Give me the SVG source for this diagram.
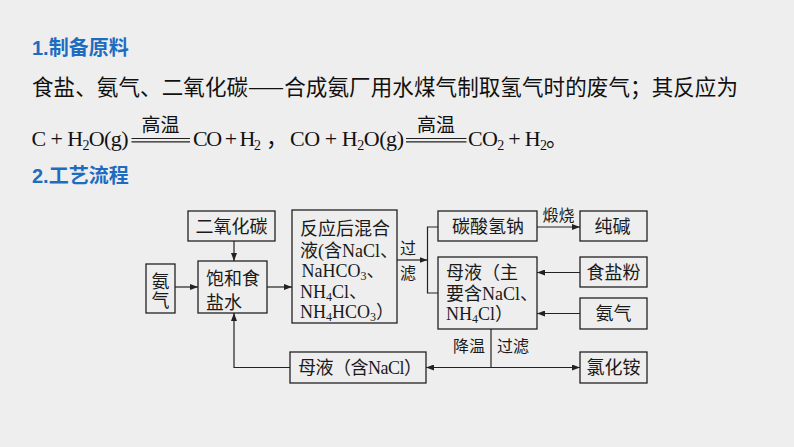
<svg xmlns="http://www.w3.org/2000/svg" width="794" height="447" viewBox="0 0 794 447">
<style>
.h{font-family:"Liberation Sans","Noto Sans CJK SC",sans-serif;font-weight:bold;font-size:20px;fill:#1d6cc0}
.p{font-family:"Noto Sans CJK SC",sans-serif;font-size:21.5px;fill:#111}
.eq{font-family:"Liberation Serif","Noto Sans CJK SC",serif;font-size:22px;fill:#111}
.cond{font-family:"Noto Sans CJK SC",sans-serif;font-size:19px;fill:#111}
.t{font-family:"Liberation Serif","Noto Sans CJK SC",serif;font-size:18px;fill:#1a1a1a}
.s{font-family:"Noto Sans CJK SC",sans-serif;font-size:16px;fill:#1a1a1a}
.sub{font-size:12px}
.esub{font-size:14px}
.box{fill:none;stroke:#222;stroke-width:1.3}
.ln{fill:none;stroke:#222;stroke-width:1.2}
</style>
<defs>
<marker id="ah" markerUnits="userSpaceOnUse" markerWidth="8" markerHeight="6" refX="8" refY="3" orient="auto">
<path d="M0,0 L8,3 L0,6 z" fill="#222"/>
</marker>
</defs>
<rect x="0" y="0" width="794" height="447" fill="#eeeeee"/>

<text class="h" x="32" y="55">1.制备原料</text>
<text class="p" x="32" y="95" textLength="706" lengthAdjust="spacing">食盐、氨气、二氧化碳——合成氨厂用水煤气制取氢气时的废气；其反应为</text>

<g id="equation">
<text class="eq" x="31.5" y="145.5" textLength="97" lengthAdjust="spacing">C + H<tspan class="esub" dy="4">2</tspan><tspan dy="-4">O(g)</tspan></text>
<text class="cond" x="160.5" y="131.5" text-anchor="middle">高温</text>
<line class="ln" x1="131.5" y1="138.5" x2="190" y2="138.5" stroke-width="1"/>
<line class="ln" x1="131.5" y1="141.8" x2="190" y2="141.8" stroke-width="1"/>
<text class="eq" x="193" y="145.5" textLength="68" lengthAdjust="spacing">CO + H<tspan class="esub" dy="4">2</tspan></text>
<text class="eq" x="266" y="145.5">，</text>
<text class="eq" x="290" y="145.5" textLength="114" lengthAdjust="spacing">CO + H<tspan class="esub" dy="4">2</tspan><tspan dy="-4">O(g)</tspan></text>
<text class="cond" x="436" y="131.5" text-anchor="middle">高温</text>
<line class="ln" x1="406" y1="138.5" x2="466.5" y2="138.5" stroke-width="1"/>
<line class="ln" x1="406" y1="141.8" x2="466.5" y2="141.8" stroke-width="1"/>
<text class="eq" x="468" y="145.5" textLength="79" lengthAdjust="spacing">CO<tspan class="esub" dy="4">2</tspan><tspan dy="-4"> + H</tspan><tspan class="esub" dy="4">2</tspan></text>
<text class="eq" x="546" y="145.5">。</text>
</g>

<text class="h" x="32" y="183">2.工艺流程</text>

<g id="co2">
<rect class="box" x="188" y="211" width="87" height="30"/>
<text class="t" x="231.5" y="233" text-anchor="middle">二氧化碳</text>
</g>
<g id="nh3-left">
<rect class="box" x="146" y="264" width="29" height="49"/>
<text class="t" x="160.5" y="287.5" text-anchor="middle">氨</text>
<text class="t" x="160.5" y="307" text-anchor="middle">气</text>
</g>
<g id="brine">
<rect class="box" x="198" y="261" width="69" height="52"/>
<text class="t" x="206" y="284.5">饱和食</text>
<text class="t" x="206" y="308.5">盐水</text>
</g>
<g id="mixture">
<rect class="box" x="292" y="210" width="105" height="113"/>
<text class="t" x="300" y="235">反应后混合</text>
<text class="t" x="300" y="256.5">液(含NaCl、</text>
<text class="t" x="301.5" y="276.5">NaHCO<tspan class="sub" dy="3">3</tspan><tspan dy="-3">、</tspan></text>
<text class="t" x="300" y="297.5">NH<tspan class="sub" dy="3">4</tspan><tspan dy="-3">Cl、</tspan></text>
<text class="t" x="300" y="318">NH<tspan class="sub" dy="3">4</tspan><tspan dy="-3">HCO</tspan><tspan class="sub" dy="3">3</tspan><tspan dy="-3">）</tspan></text>
</g>
<g id="mother2">
<rect class="box" x="290" y="352" width="136" height="31"/>
<text class="t" x="298" y="374" textLength="124" lengthAdjust="spacing">母液（含NaCl）</text>
</g>
<g id="nahco3">
<rect class="box" x="438" y="211" width="99" height="30"/>
<text class="t" x="488" y="233" text-anchor="middle">碳酸氢钠</text>
</g>
<g id="soda">
<rect class="box" x="580" y="211" width="67" height="30"/>
<text class="t" x="612.5" y="233" text-anchor="middle">纯碱</text>
</g>
<g id="mother1">
<rect class="box" x="438" y="257" width="99" height="72"/>
<text class="t" x="446" y="279">母液（主</text>
<text class="t" x="446" y="300">要含NaCl、</text>
<text class="t" x="446" y="320">NH<tspan class="sub" dy="3">4</tspan><tspan dy="-3">Cl）</tspan></text>
</g>
<g id="saltpowder">
<rect class="box" x="580" y="257" width="67" height="30"/>
<text class="t" x="613.5" y="279" text-anchor="middle">食盐粉</text>
</g>
<g id="nh3-right">
<rect class="box" x="580" y="298" width="67" height="31"/>
<text class="t" x="613.5" y="320" text-anchor="middle">氨气</text>
</g>
<g id="nh4cl">
<rect class="box" x="580" y="352" width="67" height="31"/>
<text class="t" x="613.5" y="374" text-anchor="middle">氯化铵</text>
</g>

<g id="connectors">
<line class="ln" x1="234" y1="241" x2="234" y2="261" marker-end="url(#ah)"/>
<line class="ln" x1="175" y1="287" x2="198" y2="287" marker-end="url(#ah)"/>
<line class="ln" x1="267" y1="287" x2="292" y2="287" marker-end="url(#ah)"/>
<line class="ln" x1="397" y1="260" x2="427.5" y2="260" marker-end="url(#ah)"/>
<polyline class="ln" points="438,227 427.5,227 427.5,293 438,293"/>
<line class="ln" x1="537" y1="227" x2="580" y2="227" marker-end="url(#ah)"/>
<line class="ln" x1="580" y1="272.5" x2="537" y2="272.5" marker-end="url(#ah)"/>
<line class="ln" x1="580" y1="313.5" x2="537" y2="313.5" marker-end="url(#ah)"/>
<line class="ln" x1="491" y1="329" x2="491" y2="367.5"/>
<line class="ln" x1="491" y1="367.5" x2="426" y2="367.5" marker-end="url(#ah)"/>
<line class="ln" x1="491" y1="367.5" x2="580" y2="367.5" marker-end="url(#ah)"/>
<polyline class="ln" points="290,367.5 234,367.5 234,313" marker-end="url(#ah)"/>
<text class="s" x="400" y="253.5">过</text>
<text class="s" x="400" y="278.5">滤</text>
<text class="s" x="558.5" y="220.5" text-anchor="middle">煅烧</text>
<text class="s" x="453" y="352">降温</text>
<text class="s" x="497" y="352">过滤</text>
</g>
</svg>
